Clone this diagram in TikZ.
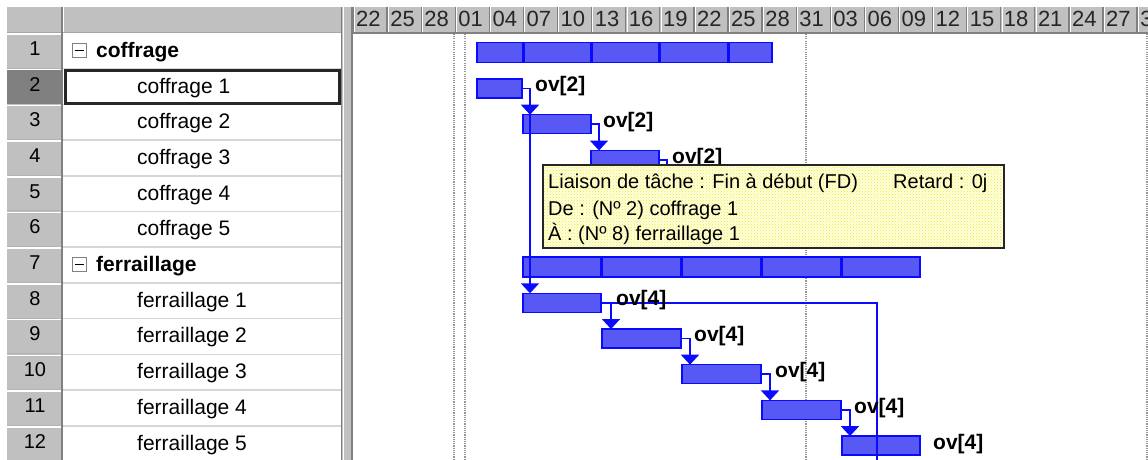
\documentclass[tikz,border=0pt]{standalone}
\usepackage{fontspec}
\setmainfont{Liberation Sans}
\usetikzlibrary{patterns,arrows.meta}
\definecolor{winGray}{RGB}{192,192,192}
\definecolor{darkGray}{RGB}{128,128,128}
\definecolor{gridGray}{RGB}{214,214,214}
\definecolor{barBlue}{RGB}{88,88,244}
\definecolor{lineBlue}{RGB}{10,10,255}
\definecolor{tipBg}{RGB}{255,255,226}
\definecolor{tipDot}{RGB}{240,236,40}
\definecolor{dotGray}{RGB}{150,150,150}
\newcommand\tabfont{\fontsize{21}{25}\selectfont}
\newcommand\hdrfont{\fontsize{22}{26}\selectfont}
\newcommand\numfont{\fontsize{20}{24}\selectfont}
\newcommand\ovfont{\fontsize{21}{25}\selectfont\bfseries}
\newcommand\tipfont{\fontsize{20}{24}\selectfont}
\tikzset{
  numtxt/.style={anchor=base, inner sep=0pt, font=\numfont},
  nametxt/.style={anchor=base west, inner sep=0pt, font=\tabfont},
  sumtxt/.style={anchor=base west, inner sep=0pt, font=\tabfont\bfseries},
  hdrtxt/.style={anchor=base west, inner sep=0pt, font=\hdrfont, text=black!85},
  minusbox/.style={draw=darkGray, line width=1pt, fill=white, minimum width=14pt, minimum height=14pt, inner sep=0pt},
  bar/.style={draw=lineBlue, fill=barBlue, line width=1.3pt, minimum height=19pt, inner sep=0pt, outer sep=0pt, anchor=west},
  sumbar/.style={bar, minimum height=20pt},
  divider/.style={lineBlue, line width=3pt},
  link/.style={draw=lineBlue, line width=1.8pt},
  arr/.style={-{Triangle[width=18pt,length=10pt]}},
  ovlab/.style={anchor=west, inner sep=0pt, font=\ovfont},
  dotline/.style={dotGray, line width=1.1pt, dash pattern=on 1.1pt off 1.1pt},
  tipbox/.style={preaction={fill=tipBg}, pattern=crosshatch dots, pattern color=tipDot, draw=black!85, line width=2.2pt, inner sep=0pt, anchor=north west},
  tiptxt/.style={anchor=base west, inner sep=0pt, font=\tipfont},
}
\begin{document}
\begin{tikzpicture}[x=1pt,y=-1pt]
\useasboundingbox (0,0) rectangle (1148,460);
\clip (0,0) rectangle (1148,460);
\fill[white] (0,0) rectangle (1148,460);

% ---------- left table ----------
\fill[winGray] (7,7) rectangle (341,33);
\draw[darkGray!70, line width=1pt] (7,32.5) -- (341,32.5);
\draw[white, line width=1.2pt] (63.5,7) -- (63.5,32);
\foreach \i in {1,...,12}{
  \pgfmathsetmacro\yt{33+(\i-1)*35.7}
  \pgfmathsetmacro\yb{33+\i*35.7}
  \fill[winGray] (7,\yt) rectangle (62,\yb);
  \draw[white, line width=1.6pt] (7,\yt+1) -- (61,\yt+1);
  \draw[darkGray!60, line width=1pt] (7,\yb-0.6) -- (62,\yb-0.6);
  \draw[gridGray, line width=1.6pt] (62,\yb) -- (341,\yb);
}
\fill[darkGray] (7,69.8) rectangle (62,103.6);
\foreach \i in {1,...,12}{
  \node[numtxt] (n\i) at (35,{33+(\i-0.5)*35.7+4.5}) {\i};
}
\draw[darkGray, line width=1.5pt] (62,7) -- (62,460);

% names
\node[minusbox] (m1) at (79,50.5) {};
\draw[black, line width=1.3pt] ([xshift=-4.5pt]m1.center) -- ([xshift=4.5pt]m1.center);
\node[sumtxt] (t1) at (96,57.35) {coffrage};
\foreach \i/\k in {2/1,3/2,4/3,5/4,6/5}{
  \node[nametxt] (t\i) at (137,{33+(\i-0.5)*35.7+6.5}) {coffrage \k};
}
\node[minusbox] (m7) at (79,264.5) {};
\draw[black, line width=1.3pt] ([xshift=-4.5pt]m7.center) -- ([xshift=4.5pt]m7.center);
\node[sumtxt] (t7) at (96,271.55) {ferraillage};
\foreach \i/\k in {8/1,9/2,10/3,11/4,12/5}{
  \node[nametxt] (t\i) at (137,{33+(\i-0.5)*35.7+6.5}) {ferraillage \k};
}
% selected cell
\draw[black!85, line width=3pt] (65,70.2) rectangle (339.3,103);

% splitter
\fill[winGray] (341,7) rectangle (352,460);
\draw[darkGray, line width=1pt] (341.5,7) -- (341.5,460);
\draw[white, line width=1pt] (343.5,7) -- (343.5,460);
\draw[darkGray, line width=1.5pt] (351.8,7) -- (351.8,460);

% ---------- gantt header ----------
\fill[winGray] (352.5,7) rectangle (1148,33);
\foreach \dlab [count=\k from 0] in {22,25,28,01,04,07,10,13,16,19,22,25,28,31,03,06,09,12,15,18,21,24,27,30}{
  \pgfmathsetmacro\xk{353+34.09*\k}
  \draw[darkGray, line width=1.2pt] (\xk,7) -- (\xk,33);
  \draw[white, line width=1pt] (\xk+1.3,7) -- (\xk+1.3,33);
  \node[hdrtxt] (h\k) at (\xk+3,27) {\dlab};
}
\draw[darkGray, line width=1.5pt] (352,33) -- (1148,33);

% grid dotted lines
\foreach \x in {454,465,806,1147} \draw[dotline] (\x,34) -- (\x,460);

% ---------- bars ----------
\node[sumbar, minimum width=295pt] (s1) at (477,52.4) {};
\foreach \x in {523,591,659,728} \draw[divider] (\x,43) -- (\x,61.8);
\node[bar, minimum width=45pt] (c1) at (477,88.5) {};
\node[bar, minimum width=68pt] (c2) at (523,124.2) {};
\node[bar, minimum width=68pt] (c3) at (591,160) {};

\node[sumbar, minimum width=397pt] (s7) at (523,267) {};
\foreach \x in {601,681,761,841} \draw[divider] (\x,258) -- (\x,276);
\node[bar, minimum width=78pt] (f1) at (523,302.8) {};
\node[bar, minimum width=79pt] (f2) at (602,338.5) {};
\node[bar, minimum width=79pt] (f3) at (682,374.2) {};
\node[bar, minimum width=79pt] (f4) at (762,409.9) {};
\node[bar, minimum width=78pt] (f5) at (842,445.6) {};

% ---------- links ----------
\coordinate (k1) at ([xshift=8pt]c1.east);
\draw[link,arr] (c1.east) -- (k1) -- (k1 |- c2.north);
\draw[link,arr] (k1) -- (k1 |- f1.north);
\coordinate (k2) at ([xshift=8pt]c2.east);
\draw[link,arr] (c2.east) -- (k2) -- (k2 |- c3.north);
\coordinate (k3) at ([xshift=8pt]c3.east);
\coordinate (c4top) at (667,186);
\draw[link] (c3.east) -- (k3) -- (c4top);

\coordinate (k5) at ([xshift=10pt]f1.east);
\coordinate (far) at (877,470);
\draw[link] (f1.east) -- (f1.east -| far) -- (far);
\draw[link,arr] (k5) -- (k5 |- f2.north);
\coordinate (k6) at ([xshift=9pt]f2.east);
\draw[link,arr] (f2.east) -- (k6) -- (k6 |- f3.north);
\coordinate (k7) at ([xshift=9pt]f3.east);
\draw[link,arr] (f3.east) -- (k7) -- (k7 |- f4.north);
\coordinate (k8) at ([xshift=9pt]f4.east);
\draw[link,arr] (f4.east) -- (k8) -- (k8 |- f5.north);

% labels
\node[ovlab] (l1) at ([xshift=13pt,yshift=2pt]c1.east) {ov[2]};
\node[ovlab] (l2) at ([xshift=12pt,yshift=2pt]c2.east) {ov[2]};
\node[ovlab] (l3) at ([xshift=13pt,yshift=2pt]c3.east) {ov[2]};
\node[ovlab] (l8) at ([xshift=15pt,yshift=3pt]f1.east) {ov[4]};
\node[ovlab] (l9) at ([xshift=13pt,yshift=2pt]f2.east) {ov[4]};
\node[ovlab] (l10) at ([xshift=14pt,yshift=2pt]f3.east) {ov[4]};
\node[ovlab] (l11) at ([xshift=13pt,yshift=2pt]f4.east) {ov[4]};
\node[ovlab] (l12) at ([xshift=13pt,yshift=2pt]f5.east) {ov[4]};

% ---------- tooltip ----------
\node[tipbox, minimum width=461pt, minimum height=83pt] (tip) at (542,164) {};
\node[tiptxt] (tp1) at (548,188) {Liaison de tâche : Fin à début (FD)};
\node[tiptxt] (tp2) at (893,188) {Retard : 0j};
\node[tiptxt] (tp3) at (548,215) {De : (Nº 2) coffrage 1};
\node[tiptxt] (tp4) at (548,240) {À : (Nº 8) ferraillage 1};
\end{tikzpicture}
\end{document}
